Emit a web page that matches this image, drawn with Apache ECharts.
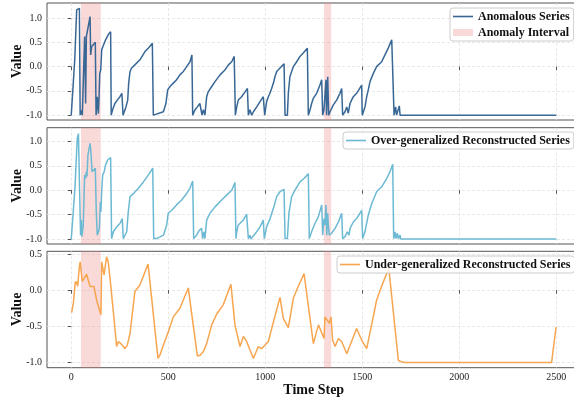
<!DOCTYPE html>
<html><head><meta charset="utf-8">
<script src="https://cdn.jsdelivr.net/npm/echarts@6/dist/echarts.min.js"></script>
<style>html,body{margin:0;padding:0;background:#fff}#c{width:574px;height:398px}</style>
</head><body><div id="c"></div>
<script>
// [time step, value]
const anomalousSeries = [[0,-1],[8,-1],[18,0.14],[28,1.17],[42,1.2],[46,-1],[52,-0.9],[57,-1],[69,0.62],[74,-0.76],[78,0.62],[97,1.03],[100,0.24],[105,0.41],[114,0.41],[124,0.5],[128,-1],[134,-0.62],[140,-0.97],[143,-0.65],[147,-0.14],[152,-0.07],[157,0.35],[167,0.45],[177,0.55],[191,0.66],[203,0.72],[206,-1],[213,-0.89],[225,-0.76],[237,-0.69],[251,-0.62],[261,-0.55],[267,-1],[272,-1],[282,-0.83],[291,-0.69],[296,-0.34],[303,-0.1],[311,-0.03],[328,0.035],[354,0.14],[380,0.31],[397,0.38],[418,0.48],[423,-1],[432,-1],[475,-0.93],[488,-0.76],[497,-0.48],[509,-0.41],[526,-0.34],[543,-0.27],[560,-0.17],[578,-0.1],[595,0.0],[612,0.1],[622,0.24],[626,-1],[638,-0.89],[650,-0.83],[663,-0.76],[670,-0.72],[674,-1],[681,-0.89],[689,-1],[698,-0.62],[706,-0.52],[724,-0.41],[741,-0.31],[767,-0.17],[792,-0.07],[810,0.035],[827,0.1],[840,0.21],[846,-1],[853,-0.83],[861,-0.69],[878,-0.62],[896,-0.52],[908,-0.45],[913,-1],[921,-0.89],[930,-1],[939,-0.93],[956,-0.83],[973,-0.72],[990,-0.62],[997,-1],[1007,-0.72],[1016,-0.62],[1024,-0.55],[1033,-0.45],[1042,-0.34],[1050,-0.21],[1059,-0.1],[1076,-0.03],[1097,0.056],[1102,-1],[1114,-1],[1119,-0.55],[1127,-0.21],[1145,0.0],[1162,0.1],[1179,0.21],[1196,0.28],[1217,0.38],[1222,-1],[1231,-0.89],[1239,-0.76],[1248,-0.65],[1265,-0.55],[1282,-0.38],[1291,-0.27],[1296,-1],[1303,-0.89],[1313,-0.27],[1316,-1],[1322,-0.21],[1327,-1],[1334,-0.93],[1351,-0.79],[1368,-0.69],[1385,-0.55],[1394,-0.45],[1399,-1],[1411,-0.93],[1420,-0.83],[1428,-0.96],[1437,-0.76],[1445,-0.69],[1454,-0.62],[1471,-0.55],[1497,-0.38],[1500,-1],[1514,-0.83],[1523,-0.62],[1531,-0.48],[1540,-0.31],[1557,-0.14],[1574,0.0],[1600,0.1],[1617,0.24],[1634,0.38],[1652,0.55],[1660,0.565],[1664,-1],[1672,-0.83],[1677,-1],[1691,-0.81],[1695,-1],[2500,-1]];

const overGeneralizedSeries = [[0,-1],[6,-1],[19,0.04],[31,1.06],[37,1.16],[43,1.18],[48,-0.92],[52,-0.61],[55,-0.95],[62,-0.71],[69,0.31],[74,0.24],[78,0.38],[81,0.28],[86,0.72],[97,0.96],[102,0.75],[107,0.38],[114,0.41],[124,0.45],[129,-0.44],[134,-0.92],[140,-0.85],[145,-0.78],[150,-0.24],[153,-0.44],[157,0.0],[162,0.31],[170,0.38],[177,0.52],[188,0.62],[203,0.67],[208,-0.99],[217,-0.85],[234,-0.75],[251,-0.68],[263,-0.58],[268,-0.99],[277,-0.97],[286,-0.85],[294,-0.44],[303,-0.13],[320,-0.07],[346,0.04],[372,0.17],[397,0.31],[420,0.45],[425,-0.99],[440,-0.99],[475,-0.92],[492,-0.71],[500,-0.47],[518,-0.41],[543,-0.3],[569,-0.2],[595,-0.065],[612,0.04],[626,0.19],[631,-0.99],[646,-0.92],[660,-0.82],[672,-0.78],[677,-0.99],[684,-0.85],[689,-0.99],[698,-0.61],[715,-0.47],[741,-0.34],[775,-0.2],[801,-0.1],[827,0.0],[844,0.16],[849,-0.99],[853,-0.85],[861,-0.71],[887,-0.61],[904,-0.49],[913,-0.99],[921,-0.92],[927,-1.0],[935,-0.95],[956,-0.85],[973,-0.75],[990,-0.61],[995,-0.99],[1007,-0.75],[1025,-0.58],[1042,-0.37],[1059,-0.13],[1076,-0.03],[1097,0.02],[1102,-0.99],[1114,-0.99],[1122,-0.47],[1136,-0.13],[1153,0.0],[1179,0.17],[1200,0.24],[1222,0.34],[1227,-0.99],[1239,-0.85],[1256,-0.68],[1274,-0.54],[1291,-0.3],[1296,-0.92],[1303,-0.58],[1308,-0.71],[1313,-0.3],[1317,-0.92],[1322,-0.47],[1325,-0.71],[1330,-0.92],[1342,-0.88],[1360,-0.78],[1377,-0.65],[1394,-0.47],[1399,-0.99],[1411,-0.95],[1423,-0.85],[1432,-0.92],[1437,-0.78],[1454,-0.65],[1471,-0.58],[1497,-0.41],[1502,-0.99],[1514,-0.85],[1531,-0.51],[1549,-0.27],[1574,-0.03],[1600,0.07],[1626,0.24],[1643,0.38],[1657,0.53],[1662,-0.99],[1669,-0.85],[1674,-0.99],[1681,-0.88],[1686,-0.99],[1695,-0.92],[1698,-1.0],[2500,-1.0]];

const underGeneralizedSeries = [[2,-0.31],[11,-0.18],[21,0.12],[26,0.08],[30,0.12],[33,0.05],[42,0.33],[46,0.39],[54,0.4],[57,0.12],[79,0.22],[97,0.05],[117,0.05],[131,-0.14],[153,-0.34],[157,0.39],[169,0.21],[182,0.46],[190,0.4],[200,0.16],[217,-0.3],[234,-0.78],[243,-0.71],[260,-0.75],[277,-0.81],[289,-0.76],[303,-0.6],[328,-0.02],[354,0.07],[396,0.36],[447,-0.945],[457,-0.9],[475,-0.76],[500,-0.58],[526,-0.37],[560,-0.25],[603,0.03],[650,-0.91],[664,-0.9],[681,-0.85],[698,-0.74],[724,-0.48],[750,-0.33],[784,-0.2],[823,0.08],[844,-0.48],[870,-0.78],[887,-0.64],[904,-0.71],[939,-0.945],[964,-0.78],[981,-0.81],[1016,-0.71],[1042,-0.44],[1076,-0.1],[1093,-0.39],[1119,-0.52],[1145,-0.11],[1170,0.05],[1200,0.23],[1248,-0.74],[1274,-0.48],[1303,-0.67],[1308,-0.37],[1330,-0.46],[1339,-0.37],[1347,-0.69],[1360,-0.78],[1377,-0.67],[1394,-0.71],[1420,-0.88],[1445,-0.71],[1471,-0.53],[1497,-0.69],[1523,-0.81],[1548,-0.48],[1574,-0.14],[1605,0.09],[1637,0.3],[1686,-0.97],[1700,-0.99],[1720,-1.0],[2476,-1.0],[2499,-0.51]];

const anomalyIntervals = [[50,152],[1303,1340]];
const xTickValues = [0,500,1000,1500,2000,2500];
const yTickValuesTop = [-1,-0.5,0,0.5,1];
const yTickValuesBottom = [-1,-0.5,0,0.5];
const seriesNames = ['Anomalous Series','Over-generalized Reconstructed Series','Under-generalized Reconstructed Series'];
const intervalName = 'Anomaly Interval';

const FONT = '"Liberation Serif","Times New Roman",serif';
const COLORS = ['#386796','#6cb9d3','#f7a54f'];
const SPAN = 'rgba(240,128,128,0.3)';
const GRIDS = [{top:3,height:117},{top:127.7,height:116.3},{top:251.3,height:116.4}];
const YR = [[-1.1,1.31],[-1.1,1.28],[-1.073,0.537]];
const LINE_ICON = 'path://M0,0h20v1.6h-20z';

const chart = echarts.init(document.getElementById('c'), null, {renderer:'canvas'});
const split = {show:true, lineStyle:{color:'#e2e2e2', type:[3,2], width:0.8}};
const markArea = {silent:true, itemStyle:{color:SPAN}, data: anomalyIntervals.map(([a,b]) => [{xAxis:a},{xAxis:b}])};
const legendBase = {orient:'vertical', itemWidth:20, itemHeight:7, itemGap:3, padding:[2,4,2,3],
  backgroundColor:'rgba(255,255,255,0.85)', borderColor:'#cccccc', borderWidth:1, borderRadius:3,
  selectedMode:false, textStyle:{fontFamily:FONT, fontWeight:'bold', fontSize:12, color:'#111', lineHeight:13}};

const option = {
  animation:false,
  grid: GRIDS.map(g => ({left:47, right:-6.5, top:g.top, height:g.height, show:true, borderColor:'#555', borderWidth:1, backgroundColor:'transparent', containLabel:false, outerBoundsMode:'none'})),
  xAxis: [0,1,2].map(i => ({
    type:'value', gridIndex:i, min:-125, max:2625,
    axisLine:{show:false},
    axisTick:{show:true, inside:false, length:3.5, lineStyle:{color:'#555'}, customValues:xTickValues},
    axisLabel:{show:i===2, customValues:xTickValues, formatter: v => String(Math.round(v)), fontFamily:FONT, fontSize:10, color:'#222', margin:5},
    splitLine:split,
    name: i===2 ? 'Time Step' : '', nameLocation:'middle', nameGap:14,
    nameTextStyle:{fontFamily:FONT, fontSize:14, fontWeight:'bold', color:'#111'}
  })),
  yAxis: [0,1,2].map(i => ({
    type:'value', gridIndex:i, min:YR[i][0], max:YR[i][1], splitNumber: i===2 ? 3 : 5,
    axisLine:{show:false},
    axisTick:{show:true, inside:false, length:3.5, lineStyle:{color:'#555'}, customValues: i===2 ? yTickValuesBottom : yTickValuesTop},
    axisLabel:{customValues: i===2 ? yTickValuesBottom : yTickValuesTop, formatter: v => v.toFixed(1), fontFamily:FONT, fontSize:10, color:'#222', margin:5},
    splitLine:split,
    name:'Value', nameLocation:'middle', nameGap:23, nameRotate:90, nameMoveOverlap:false,
    nameTextStyle:{fontFamily:FONT, fontSize:14, fontWeight:'bold', color:'#111'}
  })),
  legend: [
    Object.assign({}, legendBase, {left:450, top:8, data:[{name:seriesNames[0], icon:LINE_ICON},{name:intervalName, icon:'rect'}]}),
    Object.assign({}, legendBase, {left:343, top:132, data:[{name:seriesNames[1], icon:LINE_ICON}]}),
    Object.assign({}, legendBase, {left:337, top:256, data:[{name:seriesNames[2], icon:LINE_ICON}]})
  ],
  series: [
    {type:'line', name:intervalName, xAxisIndex:0, yAxisIndex:0, data:[], color:SPAN, symbol:'none', markArea:markArea},
    {type:'line', name:seriesNames[0], xAxisIndex:0, yAxisIndex:0, data:anomalousSeries, symbol:'none', color:COLORS[0], lineStyle:{width:1.5}},
    {type:'line', name:seriesNames[1], xAxisIndex:1, yAxisIndex:1, data:overGeneralizedSeries, symbol:'none', color:COLORS[1], lineStyle:{width:1.5}, markArea:markArea},
    {type:'line', name:seriesNames[2], xAxisIndex:2, yAxisIndex:2, data:underGeneralizedSeries, symbol:'none', color:COLORS[2], lineStyle:{width:1.5}, markArea:markArea}
  ]
};
chart.setOption(option);
</script></body></html>
